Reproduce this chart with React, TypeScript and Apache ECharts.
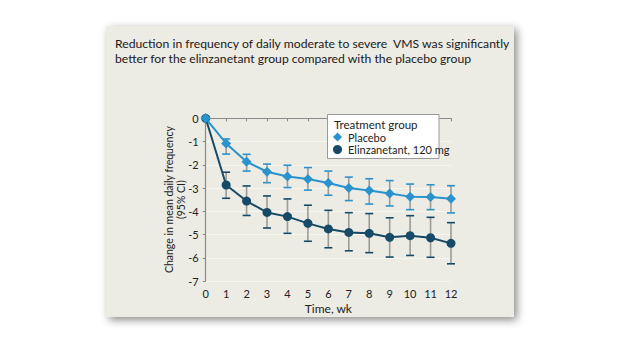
import React, { useEffect, useRef } from "react";
import * as echarts from "echarts";

const weeks = [0, 1, 2, 3, 4, 5, 6, 7, 8, 9, 10, 11, 12];
const placebo = [0, -1.08, -1.87, -2.3, -2.5, -2.61, -2.78, -3.0, -3.11, -3.24, -3.37, -3.39, -3.46];
const placeboHi = [0, -0.89, -1.55, -1.97, -2.02, -2.12, -2.27, -2.53, -2.6, -2.68, -2.83, -2.86, -2.9];
const placeboLo = [0, -1.54, -2.27, -2.77, -2.98, -3.09, -3.31, -3.54, -3.69, -3.77, -3.93, -3.93, -4.07];
const elinz = [0, -2.87, -3.56, -4.05, -4.23, -4.52, -4.76, -4.91, -4.95, -5.12, -5.05, -5.14, -5.38];
const elinzHi = [0, -2.32, -2.91, -3.34, -3.47, -3.74, -3.96, -4.06, -4.1, -4.28, -4.19, -4.26, -4.49];
const elinzLo = [0, -3.44, -4.18, -4.72, -4.95, -5.29, -5.57, -5.7, -5.78, -5.97, -5.9, -5.98, -6.26];

const titleText =
  "Reduction in frequency of daily moderate to severe  VMS was significantly\nbetter for the elinzanetant group compared with the placebo group";
const seriesNames = ["Placebo", "Elinzanetant, 120 mg"];

const FONT = "Lato, 'Open Sans', sans-serif";
const C_PLA = "#2a92cc";
const C_ELI = "#164a66";

function errBar(capColor: string) {
  return (params: any, api: any) => {
    const x = api.value(0);
    const hi = api.value(1);
    const lo = api.value(2);
    if (x === 0) return null;
    const pHi = api.coord([x, hi]);
    const pLo = api.coord([x, lo]);
    const hw = 4;
    return {
      type: "group",
      children: [
        { type: "line", shape: { x1: pHi[0], y1: pHi[1], x2: pLo[0], y2: pLo[1] }, style: { stroke: "#9b9b98", lineWidth: 1.6 } },
        { type: "line", shape: { x1: pHi[0] - hw, y1: pHi[1], x2: pHi[0] + hw, y2: pHi[1] }, style: { stroke: capColor, lineWidth: 1.6 } },
        { type: "line", shape: { x1: pLo[0] - hw, y1: pLo[1], x2: pLo[0] + hw, y2: pLo[1] }, style: { stroke: capColor, lineWidth: 1.6 } },
      ],
    };
  };
}

export default function App() {
  const ref = useRef<HTMLDivElement>(null);
  useEffect(() => {
    const chart = echarts.init(ref.current!, undefined, { renderer: "svg" });
    chart.setOption({
      animation: false,
      backgroundColor: "#ffffff",
      textStyle: { fontFamily: FONT },
      graphic: [
        {
          type: "rect",
          z: -10,
          shape: { x: 106, y: 26, width: 408, height: 291 },
          style: { fill: "#ecebe4", shadowBlur: 8, shadowOffsetX: 3, shadowOffsetY: 3, shadowColor: "rgba(0,0,0,0.45)" },
        },
        {
          type: "rect",
          z: 5,
          shape: { x: 327.5, y: 114.5, width: 111.5, height: 44 },
          style: { fill: "#ffffff", stroke: "#9a9a9a", lineWidth: 1 },
        },
        {
          type: "text",
          z: 6,
          x: 334,
          y: 118.5,
          style: { text: "Treatment group", fill: "#222", font: `11.5px ${FONT}` },
        },
      ],
      title: {
        text: titleText,
        left: 110,
        top: 31,
        textStyle: { fontFamily: FONT, fontSize: 12.2, fontWeight: "normal", color: "#1a1a1a", lineHeight: 15 },
      },
      legend: {
        data: [
          { name: seriesNames[0], icon: "diamond" },
          { name: seriesNames[1], icon: "circle" },
        ],
        orient: "vertical",
        left: 333,
        top: 131.5,
        padding: 0,
        z: 10,
        itemGap: 1.5,
        itemWidth: 9,
        itemHeight: 9,
        textStyle: { fontFamily: FONT, fontSize: 11, color: "#222", padding: [0, 0, 0, 1] },
      },
      grid: { left: 205.7, right: 173, top: 118.3, bottom: 70, containLabel: false },
      xAxis: {
        type: "value",
        min: 0,
        max: 12,
        interval: 1,
        name: "Time, wk",
        nameLocation: "middle",
        nameGap: 21,
        nameTextStyle: { fontFamily: FONT, fontSize: 12, color: "#222" },
        axisLine: { lineStyle: { color: "#8a8a8a", width: 1.2 } },
        axisTick: { length: 3, lineStyle: { color: "#8a8a8a" } },
        axisLabel: { fontSize: 11, color: "#222", margin: 7 },
        splitLine: { show: false },
      },
      yAxis: {
        type: "value",
        min: -7,
        max: 0,
        interval: 1,
        name: "Change in mean daily frequency\n(95% CI)",
        nameLocation: "middle",
        nameRotate: 90,
        nameGap: 19,
        nameMoveOverlap: false,
        nameTextStyle: { fontFamily: FONT, fontSize: 10.5, color: "#222", lineHeight: 12 },
        axisLine: { show: true, lineStyle: { color: "#8a8a8a", width: 1.2 } },
        axisTick: { show: true, length: 3, lineStyle: { color: "#8a8a8a" } },
        axisLabel: { fontSize: 11, color: "#222", margin: 7 },
        splitLine: { show: true, lineStyle: { color: "#f7f6f1", width: 1.2 } },
      },
      series: [
        {
          type: "custom",
          name: "pla-err",
          z: 1,
          renderItem: errBar(C_PLA),
          data: weeks.map((w, i) => [w, placeboHi[i], placeboLo[i]]),
          encode: { x: 0, y: [1, 2] },
        },
        {
          type: "custom",
          name: "eli-err",
          z: 1,
          renderItem: errBar(C_ELI),
          data: weeks.map((w, i) => [w, elinzHi[i], elinzLo[i]]),
          encode: { x: 0, y: [1, 2] },
        },
        {
          type: "line",
          name: seriesNames[1],
          z: 3,
          data: weeks.map((w, i) => [w, elinz[i]]),
          symbol: "circle",
          symbolSize: 9,
          lineStyle: { color: C_ELI, width: 2 },
          itemStyle: { color: C_ELI },
        },
        {
          type: "line",
          name: seriesNames[0],
          z: 4,
          data: weeks.map((w, i) => [w, placebo[i]]),
          symbol: "diamond",
          symbolSize: 10,
          lineStyle: { color: C_PLA, width: 2 },
          itemStyle: { color: C_PLA },
        },
      ],
    });
    return () => chart.dispose();
  }, []);
  return <div ref={ref} style={{ position: "fixed", left: 0, top: 0, width: 624, height: 351 }} />;
}
